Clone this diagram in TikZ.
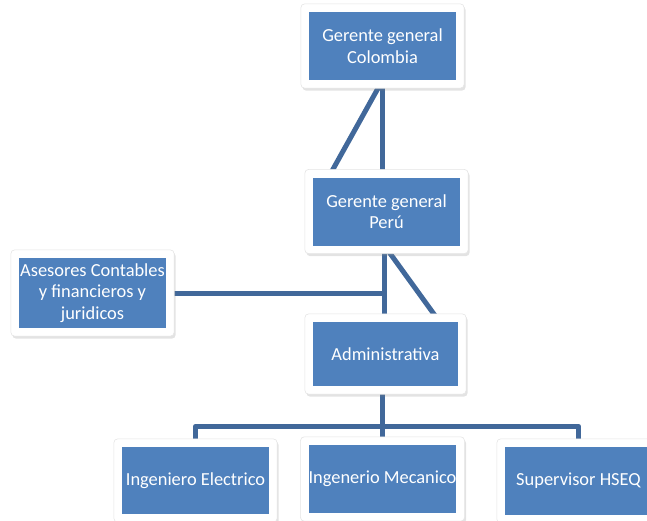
\documentclass[tikz,border=0pt]{standalone}
\usepackage{fontspec}
\setmainfont{Carlito}
\usetikzlibrary{fit,shadows,calc}
\pgfdeclarelayer{lines}
\pgfdeclarelayer{frames}
\pgfsetlayers{lines,frames,main}
\definecolor{boxblue}{HTML}{4F81BD}
\definecolor{linkblue}{HTML}{41689A}
\begin{document}
\begin{tikzpicture}[x=1pt,y=-1pt,
  box/.style={rectangle, fill=boxblue, text=white, minimum width=147pt, minimum height=68pt, inner sep=0pt, align=center, font=\fontsize{18.4}{21.5}\selectfont},
  frame/.style={rectangle, fill=white, draw=black!10, line width=0.6pt, rounded corners=4pt, inner sep=8pt, drop shadow={opacity=0.22, shadow xshift=1.5pt, shadow yshift=-2.5pt}},
  link/.style={draw=linkblue, line width=5pt}]
\useasboundingbox (0,0) rectangle (647,520);

\node[box] (col) at (382.5,46) {Gerente general\\Colombia};
\node[box] (peru) at (386.5,211.5) {Gerente general\\Perú};
\node[box, minimum height=70pt] (ases) at (92.5,293) {Asesores Contables\\y financieros y\\juridicos};
\node[box, minimum width=145pt, minimum height=64pt] (admin) at (385.5,354) {Administrativa};
\node[box, minimum height=67pt] (ing1) at (195.5,480.5) {Ingeniero Electrico};
\node[box] (ing2) at (382.5,479) {Ingenerio Mecanico};
\node[box] (sup) at (578.5,481) {Supervisor HSEQ};

\begin{pgfonlayer}{frames}
  \foreach \n in {col,peru,ases,admin,ing1,ing2,sup}
    \node[frame, fit=(\n)] (\n-frame) {};
\end{pgfonlayer}

\begin{pgfonlayer}{lines}
  \coordinate (pj) at ($(peru.south)+(-2,0)$);
  \coordinate (bus) at ($(admin.south -| col.south)+(0,40)$);
  \draw[link] (col.south) -- (col.south |- peru.north);
  \draw[link] (col.south) -- ($(peru.north)+(-58,0)$);
  \draw[link] (pj) -- (pj |- admin.north);
  \draw[link] (ases.east) -- (ases.east -| peru.south);
  \draw[link] (pj) -- ($(admin.north)+(54,0)$);
  \draw[link] (admin.south -| col.south) -- (bus) -- (bus |- ing2.north);
  \draw[link, line join=round] (ing1.north) |- (bus) -| (sup.north);
\end{pgfonlayer}
\end{tikzpicture}
\end{document}
